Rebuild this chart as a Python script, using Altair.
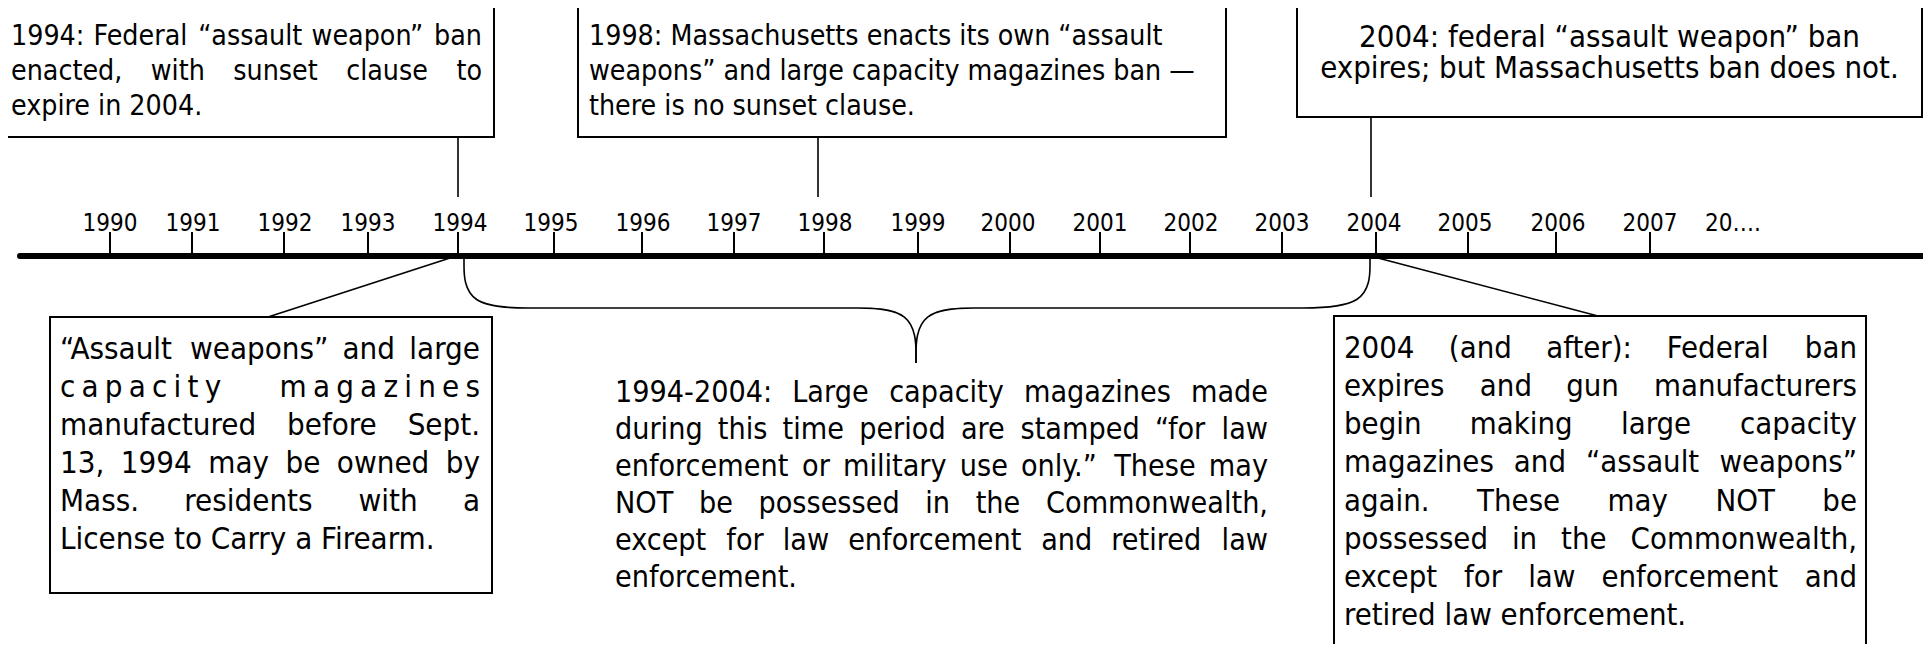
import altair as alt
import pandas as pd

# ---------------- data ----------------
years = ["1990", "1991", "1992", "1993", "1994", "1995", "1996", "1997", "1998",
         "1999", "2000", "2001", "2002", "2003", "2004", "2005", "2006", "2007"]
year_pos = [110, 192, 284, 368, 458, 554, 642, 734, 824, 918, 1010, 1100, 1190,
            1282, 1376, 1468, 1556, 1650]
label_pos = [110, 193, 285, 368, 460, 551, 643, 734, 825, 918, 1008, 1100, 1191,
             1282, 1374, 1465, 1558, 1650]
more_label = "20…."
more_pos = 1733

box1_lines = ["1994: Federal “assault weapon” ban",
              "enacted, with sunset clause to",
              "expire in 2004."]
box2_lines = ["1998: Massachusetts enacts its own “assault",
              "weapons” and large capacity magazines ban —",
              "there is no sunset clause."]
box3_lines = ["2004: federal “assault weapon” ban",
              "expires; but Massachusetts ban does not."]
box5_lines = ["“Assault weapons” and large",
              "capacity magazines",
              "manufactured before Sept.",
              "13, 1994 may be owned by",
              "Mass. residents with a",
              "License to Carry a Firearm."]
middle_lines = ["1994-2004: Large capacity magazines made",
                "during this time period are stamped “for law",
                "enforcement or military use only.” These may",
                "NOT be possessed in the Commonwealth,",
                "except for law enforcement and retired law",
                "enforcement."]
box4_lines = ["2004 (and after): Federal ban",
              "expires and gun manufacturers",
              "begin making large capacity",
              "magazines and “assault weapons”",
              "again. These may NOT be",
              "possessed in the Commonwealth,",
              "except for law enforcement and",
              "retired law enforcement."]

# ---------------- styles / layout ----------------
FONT = "DejaVu Sans Condensed"
TICKF = 24
COND = 0.9
W = {' ': .318, '!': .401, '"': .46, "'": .275, '(': .39, ')': .39, ',': .318, '-': .361,
     '.': .318, ':': .337, ';': .337, '“': .52, '”': .52, '—': 1.0, '…': 1.0}
for d in "0123456789":
    W[d] = .636
W.update({'A': .684, 'B': .686, 'C': .698, 'D': .770, 'E': .632, 'F': .575, 'G': .775,
          'H': .752, 'I': .295, 'L': .557, 'M': .863, 'N': .748, 'O': .787, 'P': .603,
          'R': .695, 'S': .635, 'T': .611,
          'a': .613, 'b': .635, 'c': .550, 'd': .635, 'e': .615, 'f': .352, 'g': .635,
          'h': .634, 'i': .278, 'k': .579, 'l': .278, 'm': .974, 'n': .634, 'o': .612,
          'p': .635, 'r': .411, 's': .521, 't': .392, 'u': .634, 'v': .592, 'w': .818,
          'x': .592, 'y': .592, 'z': .525})


def tw(s, size):
    return sum(W.get(c, 0.6) for c in s) * size * COND


rows = []


def block(lines, L, R, base, step, modes, size, letter_extra=6.2):
    for i, line in enumerate(lines):
        y = base + i * step
        m = modes[i]
        if m == "left":
            rows.append(dict(x=L, y=y, t=line, a="left", s=size))
        elif m == "center":
            rows.append(dict(x=(L + R) / 2, y=y, t=line, a="center", s=size))
        elif m == "justify":
            words = line.split(" ")
            widths = [tw(w, size) for w in words]
            gap = (R - L - sum(widths)) / (len(words) - 1)
            x = L
            for j, (w, wd) in enumerate(zip(words, widths)):
                if j == len(words) - 1:
                    rows.append(dict(x=R, y=y, t=w, a="right", s=size))
                else:
                    rows.append(dict(x=x, y=y, t=w, a="left", s=size))
                x += wd + gap
        elif m == "spread":
            first, last = line.split(" ")
            x = L
            for c in first:
                rows.append(dict(x=x, y=y, t=c, a="left", s=size))
                x += tw(c, size) + letter_extra
            total = sum(tw(c, size) for c in last) + letter_extra * (len(last) - 1)
            x = R - total
            for c in last:
                rows.append(dict(x=x, y=y, t=c, a="left", s=size))
                x += tw(c, size) + letter_extra


block(box1_lines, 11, 482, 45, 35, ["justify", "justify", "left"], 28.3)
block(box2_lines, 589, 1220, 45, 35, ["left"] * 3, 28.3)
block(box3_lines, 1297, 1922, 47, 31, ["center"] * 2, 30.9)
block(box5_lines, 60, 480, 359, 38, ["justify", "spread", "justify", "justify", "justify", "left"], 31)
block(middle_lines, 615, 1268, 402, 37, ["justify"] * 5 + ["left"], 30.2)
block(box4_lines, 1344, 1857, 358, 38.14, ["justify"] * 7 + ["left"], 30.8)
words_df = pd.DataFrame(rows)

boxes = pd.DataFrame({"x0": [2, 578, 1297, 50, 1334],
                      "x1": [494, 1226, 1922, 492, 1866],
                      "y0": [5, 5, 5, 317, 316],
                      "y1": [137, 137, 117, 593, 700]})

segs = pd.DataFrame({"x0": [458, 818, 1371, 450, 1378],
                     "y0": [137, 137, 117, 258, 258],
                     "x1": [458, 818, 1371, 268, 1598],
                     "y1": [197, 197, 197, 317, 316]})

ticks = pd.DataFrame({"year": years, "pos": year_pos})
tlabels = pd.DataFrame({"year": years + [more_label], "pos": label_pos + [more_pos]})

brace = pd.DataFrame({
    "seg": ["a"] * 3 + ["b"] * 2 + ["c"] * 3 + ["d"] * 3 + ["e"] * 2 + ["f"] * 3,
    "o": list(range(3)) + list(range(2)) + list(range(3)) + list(range(3)) + list(range(2)) + list(range(3)),
    "x": [464, 464, 540, 540, 846, 846, 916, 916, 916, 916, 986, 986, 1290, 1290, 1370, 1370],
    "y": [257, 308, 308, 308, 308, 308, 308, 363, 363, 308, 308, 308, 308, 308, 308, 257]})

timeline = pd.DataFrame({"x0": [20], "x1": [1924], "y": [256]})

xs = alt.Scale(domain=[8, 1923], nice=False, zero=False)
ys = alt.Scale(domain=[8, 644], nice=False, zero=False, reverse=True)


def X(f):
    return alt.X(f, type="quantitative", scale=xs, axis=None)


def Y(f):
    return alt.Y(f, type="quantitative", scale=ys, axis=None)


layers = []
layers.append(alt.Chart(boxes).mark_rect(fill="white", stroke="black", strokeWidth=2, clip=True).encode(
    x=X("x0"), x2="x1", y=Y("y0"), y2="y1"))
layers.append(alt.Chart(segs).mark_rule(color="black", strokeWidth=1.6).encode(
    x=X("x0"), x2="x1", y=Y("y0"), y2="y1"))
layers.append(alt.Chart(ticks).mark_rule(color="black", strokeWidth=2).encode(
    x=X("pos"), y=Y("t0:Q"), y2="t1:Q").transform_calculate(t0="232", t1="256"))
layers.append(alt.Chart(timeline).mark_rule(color="black", strokeWidth=6, strokeCap="round").encode(
    x=X("x0"), x2="x1", y=Y("y")))
layers.append(alt.Chart(brace).mark_line(color="black", strokeWidth=1.6, interpolate="basis").encode(
    x=X("x"), y=Y("y"), detail="seg:N", order="o:Q"))
layers.append(alt.Chart(tlabels).mark_text(font=FONT, fontSize=TICKF, align="center",
                                           baseline="alphabetic", color="black").encode(
    x=X("pos"), y=Y("b:Q"), text="year:N").transform_calculate(b="231"))
for (al, sz), sub in words_df.groupby(["a", "s"]):
    layers.append(alt.Chart(sub.reset_index(drop=True)).mark_text(
        font=FONT, fontSize=float(sz), align=al, baseline="alphabetic", color="black").encode(
        x=X("x"), y=Y("y"), text="t:N"))

chart = alt.layer(*layers).properties(
    width=1915, height=636, padding=0, autosize=alt.AutoSizeParams(type="none")
).configure_view(stroke=None)

chart.save("out.html", embed_options={"renderer": "svg", "actions": False})
